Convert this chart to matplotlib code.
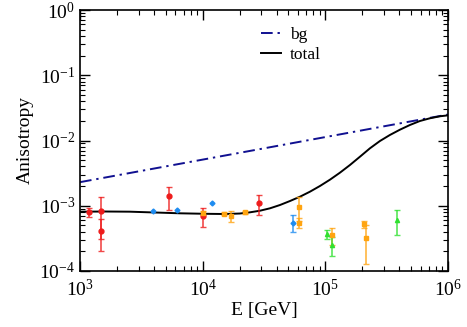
import numpy as np
import matplotlib
matplotlib.use("Agg")
import matplotlib.pyplot as plt
from matplotlib.ticker import LogLocator, NullFormatter

plt.rcParams['font.family'] = ['Liberation Serif', 'DejaVu Serif']
plt.rcParams['mathtext.fontset'] = 'stix'

# background and total model curves
bg_E = [1e3, 1e6]
bg_A = [2.3e-3, 2.5e-2]

tot_E = [1e3, 1598, 2550, 4086, 6531, 1.044e4, 1.52e4, 2.01e4, 2.43e4, 2.93e4, 3.54e4,
         4.27e4, 5.15e4, 6.21e4, 7.49e4, 9.04e4, 1.09e5, 1.315e5, 1.587e5, 1.914e5,
         2.31e5, 2.786e5, 3.36e5, 4.055e5, 4.89e5, 5.90e5, 7.12e5, 8.59e5, 1e6]
tot_A = [8.11e-4, 8.16e-4, 8.11e-4, 7.88e-4, 7.66e-4, 7.53e-4, 7.47e-4, 7.60e-4, 7.93e-4,
         8.39e-4, 9.14e-4, 1.027e-3, 1.182e-3, 1.376e-3, 1.642e-3, 2.008e-3, 2.507e-3,
         3.21e-3, 4.21e-3, 5.64e-3, 7.59e-3, 9.82e-3, 1.215e-2, 1.464e-2, 1.728e-2,
         1.99e-2, 2.19e-2, 2.35e-2, 2.43e-2]

# data sets
red_E = [1183, 1475, 1475, 5310, 1.0e4, 2.88e4]
red_A = [8.0e-4, 8.3e-4, 4.15e-4, 1.40e-3, 6.9e-4, 1.09e-3]
red_err = [1.3e-4, 5.2e-4, 2.1e-4, 5.3e-4, 2.2e-4, 3.8e-4]

blue_E = [3950, 6180, 1.2e4, 5.45e4]
blue_A = [8.3e-4, 8.7e-4, 1.11e-3, 5.5e-4]
blue_err = [0.0, 0.0, 0.0, 1.6e-4]

orange_E = [1.0e4, 1.49e4, 1.70e4, 2.22e4, 6.12e4, 6.12e4, 1.13e5, 2.07e5, 2.15e5]
orange_A = [7.8e-4, 7.5e-4, 7.0e-4, 8.0e-4, 9.7e-4, 5.5e-4, 3.5e-4, 5.2e-4, 3.2e-4]
orange_err = [0.5e-4, 0.4e-4, 1.4e-4, 0.4e-4, 3.8e-4, 0.9e-4, 1.0e-4, 0.6e-4, 1.9e-4]

green_E = [1.03e5, 1.13e5, 3.81e5]
green_A = [3.65e-4, 2.5e-4, 6.05e-4]
green_err = [0.6e-4, 0.8e-4, 2.5e-4]

fig = plt.figure(figsize=(4.67, 3.27), dpi=100)
ax = fig.add_axes([80/467, 1-271/327, 368/467, 261/327])

ax.plot(bg_E, bg_A, color='#101090', lw=1.4, dashes=(6, 2.5, 1.2, 2.5), label='bg')
ax.plot(tot_E, tot_A, color='black', lw=1.4, label='total')

def draw(E, A, err, color, marker, ms):
    E = np.array(E); A = np.array(A); err = np.array(err)
    m = err > 0
    if m.any():
        ax.errorbar(E[m], A[m], yerr=err[m], fmt='none', ecolor=color, elinewidth=1.2,
                    capsize=2.2, capthick=1.0, alpha=0.8, zorder=3)
    ax.plot(E, A, linestyle='none', marker=marker, color=color, ms=ms, zorder=4)

draw(red_E, red_A, red_err, '#ee1c1c', 'o', 3.5)
draw(blue_E, blue_A, blue_err, '#1e8cf0', 'D', 2.5)
draw(orange_E, orange_A, orange_err, '#ffa410', 's', 3.2)
draw(green_E, green_A, green_err, '#30e030', '^', 3.0)

ax.set_xscale('log')
ax.set_yscale('log')
ax.set_xlim(1e3, 1e6)
ax.set_ylim(1e-4, 1)
ax.xaxis.set_major_locator(LogLocator(base=10, numticks=10))
ax.yaxis.set_major_locator(LogLocator(base=10, numticks=10))
ax.xaxis.set_minor_locator(LogLocator(base=10, subs=np.arange(2, 10), numticks=20))
ax.yaxis.set_minor_locator(LogLocator(base=10, subs=np.arange(2, 10), numticks=20))
ax.xaxis.set_minor_formatter(NullFormatter())
ax.yaxis.set_minor_formatter(NullFormatter())
ax.tick_params(which='both', direction='in', top=True, right=True, labelsize=14)
ax.tick_params(which='major', length=7, width=1)
ax.tick_params(which='minor', length=3.5, width=0.8)
ax.tick_params(axis='x', pad=6)
for s in ax.spines.values():
    s.set_linewidth(1.2)

ax.set_xlabel('E [GeV]', fontsize=14, labelpad=1)
ax.set_ylabel('Anisotropy', fontsize=14, labelpad=4)

ax.legend(loc='upper left', bbox_to_anchor=(0.45, 0.995), frameon=False, fontsize=12.5,
          handlelength=1.15, handletextpad=0.5, labelspacing=0.22)

fig.savefig('out.png', dpi=100)
